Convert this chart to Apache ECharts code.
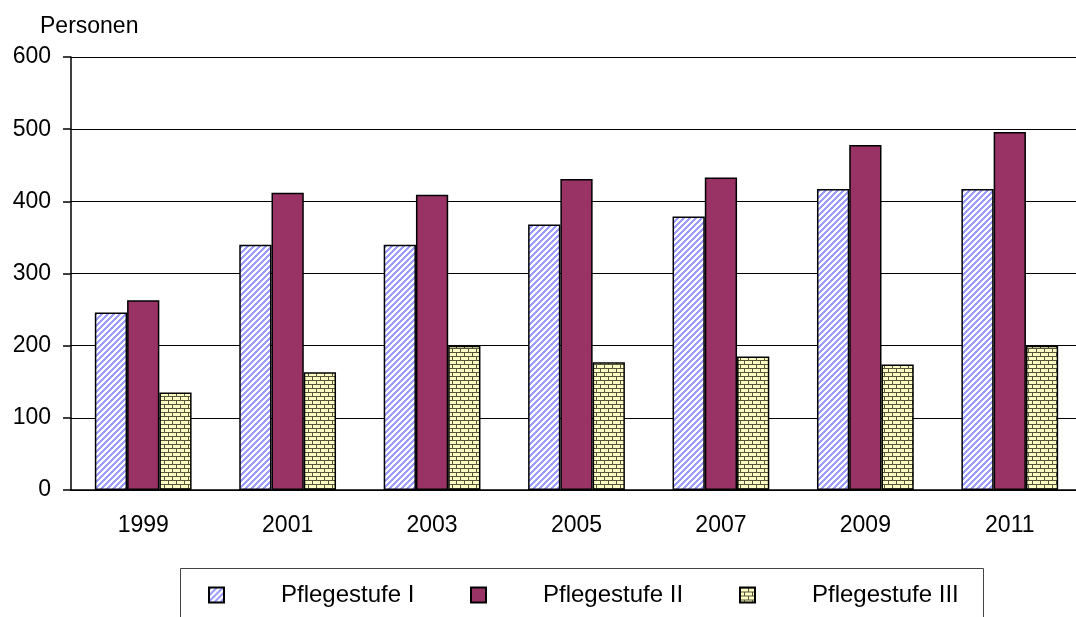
<!DOCTYPE html>
<html>
<head>
<meta charset="utf-8">
<title>Pflegestufen</title>
<script src="https://cdn.jsdelivr.net/npm/echarts@6/dist/echarts.min.js"></script>
<style>
  html, body { margin: 0; padding: 0; background: #fff; }
  #main { width: 1076px; height: 617px; }
</style>
</head>
<body>
<div id="main"></div>
<script>
// 数据
let years = ['1999', '2001', '2003', '2005', '2007', '2009', '2011']
let stufe1 = [246, 340, 340, 368, 379, 417, 417]
let stufe2 = [263, 412, 409, 431, 433, 478, 496]
let stufe3 = [135, 163, 200, 177, 185, 174, 200]
let seriesNames = ['Pflegestufe I', 'Pflegestufe II', 'Pflegestufe III']

let font = '"Liberation Sans", Arial, sans-serif'

// 斜线填充
function stripes () {
  let c = document.createElement('canvas')
  c.width = 6
  c.height = 6
  let ctx = c.getContext('2d')
  ctx.fillStyle = '#fff'
  ctx.fillRect(0, 0, 6, 6)
  ctx.fillStyle = '#9d9dff'
  for (let x = 0; x < 6; x++) {
    for (let y = 0; y < 6; y++) {
      if ((x + y) % 6 < 3) ctx.fillRect(x, y, 1, 1)
    }
  }
  return { image: c, repeat: 'repeat' }
}

// 砖墙填充
function bricks () {
  let c = document.createElement('canvas')
  c.width = 8
  c.height = 8
  let ctx = c.getContext('2d')
  ctx.fillStyle = '#ffffc4'
  ctx.fillRect(0, 0, 8, 8)
  ctx.fillStyle = '#55553c'
  ctx.fillRect(0, 0, 8, 1)
  ctx.fillRect(0, 4, 8, 1)
  ctx.fillRect(0, 1, 1, 3)
  ctx.fillRect(4, 5, 1, 3)
  return { image: c, repeat: 'repeat' }
}

let fills = [stripes(), '#993366', bricks()]
let values = [stufe1, stufe2, stufe3]

// 图例位置：每个图例单独放
let legendLeft = [208, 470, 739]
let legends = seriesNames.map(function (name, i) {
  return {
    data: [name],
    left: legendLeft[i],
    top: 583,
    padding: 0,
    icon: 'rect',
    itemWidth: 15,
    itemHeight: 15,
    selectedMode: false,
    formatter: '{pad|}{name|' + name + '}',
    textStyle: {
      rich: {
        pad: { width: 52 },
        name: { fontSize: 24, fontFamily: font, color: '#000' }
      }
    }
  }
})

let mychart = echarts.init(document.getElementById('main'))
let option = {
  animation: false,
  title: {
    text: 'Personen',
    left: 35,
    top: 10,
    textStyle: { fontSize: 23, fontWeight: 'normal', fontFamily: font, color: '#000' }
  },
  legend: legends,
  // 图例外框
  graphic: [{
    type: 'rect',
    shape: { x: 180.5, y: 568.5, width: 803, height: 70 },
    style: { fill: 'none', stroke: '#444', lineWidth: 1 }
  }],
  grid: {
    left: 71,
    width: 1011,
    top: 57,
    bottom: 127,
    // 绘图区右边超出画布
    outerBoundsMode: 'none'
  },
  xAxis: {
    type: 'category',
    data: years,
    axisLine: { lineStyle: { color: '#000', width: 1.5 } },
    axisTick: { length: 8, lineStyle: { color: '#000', width: 1.5 } },
    axisLabel: { margin: 24, fontSize: 23, fontFamily: font, color: '#000' }
  },
  yAxis: {
    type: 'value',
    min: 0,
    max: 600,
    interval: 100,
    axisLine: { show: true, lineStyle: { color: '#000', width: 1.5 } },
    axisTick: { show: true, length: 8, lineStyle: { color: '#000', width: 1.5 } },
    axisLabel: { margin: 20, fontSize: 23, fontFamily: font, color: '#000' },
    splitLine: { lineStyle: { color: '#000', width: 1 } }
  },
  series: seriesNames.map(function (name, i) {
    return {
      name: name,
      type: 'bar',
      data: values[i],
      barGap: '0%',
      barCategoryGap: '33%',
      itemStyle: {
        color: fills[i],
        borderColor: '#000',
        borderWidth: 1.5
      }
    }
  })
}

mychart.setOption(option)
</script>
</body>
</html>
